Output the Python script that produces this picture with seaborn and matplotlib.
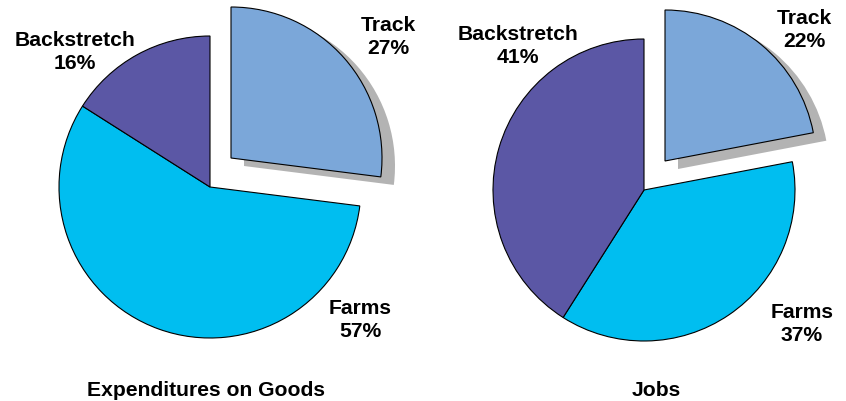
import matplotlib
matplotlib.use("Agg")
import matplotlib.pyplot as plt
from matplotlib.patches import Wedge
import seaborn as sns

# Shares by sector, clockwise from 12 o'clock
categories = ["Track", "Farms", "Backstretch"]
goods_share = [27, 57, 16]
jobs_share = [22, 37, 41]
panel_titles = ["Expenditures on Goods", "Jobs"]

sns.set_theme(style="white")
plt.rcParams["font.family"] = ["Liberation Sans", "DejaVu Sans"]
plt.rcParams["font.weight"] = "bold"

palette = sns.color_palette(["#7BA7D9", "#00BEF0", "#5B57A5"])

W, H = 846, 402
fig = plt.figure(figsize=(W / 100, H / 100), dpi=100)
ax = fig.add_axes([0, 0, 1, 1])

R = 151
panels = [
    dict(values=goods_share, center=(210, 214), title_x=206,
         label_pos={"Track": (388, 365), "Farms": (360, 82), "Backstretch": (75, 350)}),
    dict(values=jobs_share, center=(644, 211), title_x=656,
         label_pos={"Track": (804, 372), "Farms": (802, 78), "Backstretch": (518, 356)}),
]
explode_shift = (21, 29)      # pull-out of the Track slice
shadow_shift = (13, -8)       # drop shadow behind the Track slice
FS = 15.2

for panel, title in zip(panels, panel_titles):
    cx, cy = panel["center"]
    wedges, _ = ax.pie(
        panel["values"], colors=palette, startangle=90, counterclock=False,
        center=(cx, cy), radius=R,
        wedgeprops=dict(edgecolor="black", linewidth=0.8),
    )
    track = wedges[0]
    tx, ty = cx + explode_shift[0], cy + explode_shift[1]
    track.set_center((tx, ty))
    shadow = Wedge((tx + shadow_shift[0], ty + shadow_shift[1]), R,
                   track.theta1, track.theta2,
                   facecolor="#b3b3b3", edgecolor="none", zorder=track.get_zorder() - 0.5)
    ax.add_patch(shadow)

    for cat, val in zip(categories, panel["values"]):
        x, y = panel["label_pos"][cat]
        ax.text(x, y, f"{cat}\n{val}%", ha="center", va="center",
                multialignment="center", fontsize=FS, fontweight="bold",
                linespacing=1.3, color="black")

    ax.text(panel["title_x"], 6, title, ha="center", va="baseline",
            fontsize=FS, fontweight="bold", color="black")

ax.set_xlim(0, W)
ax.set_ylim(0, H)
ax.set_aspect("equal")
ax.axis("off")

fig.savefig("out.png", dpi=100, facecolor="white")
